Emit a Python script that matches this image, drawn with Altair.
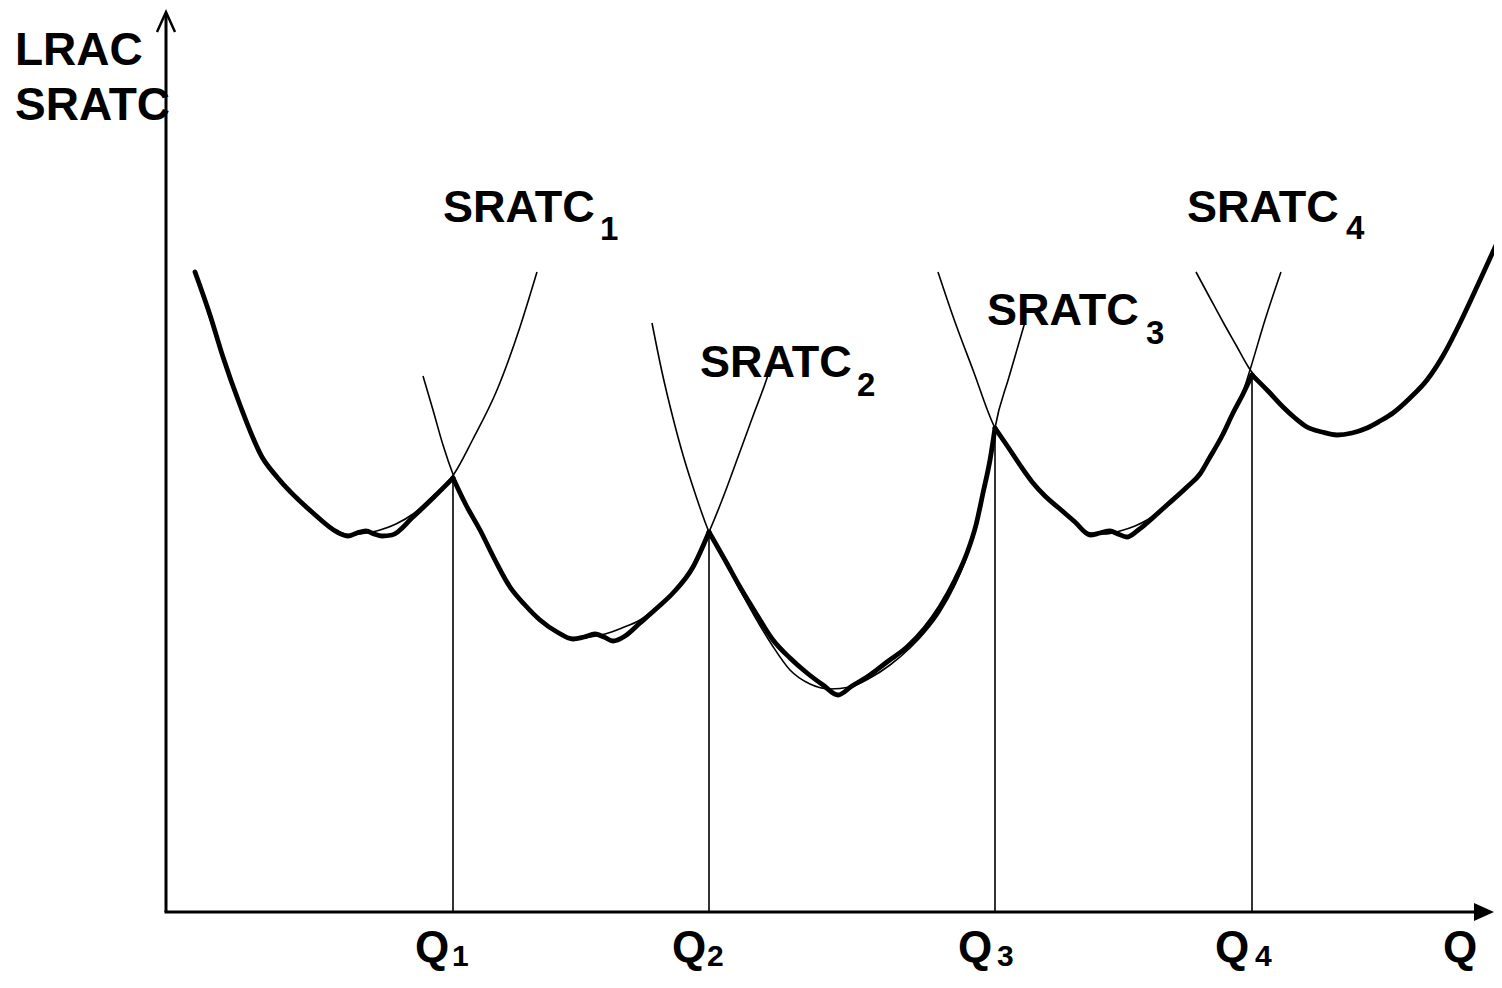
import altair as alt
import pandas as pd

# Data units: Q (quantity, horizontal) and C (cost, vertical)
Q_DOMAIN = [-15.8, 132.8]
C_DOMAIN = [-6.2, 90.4]

# LRAC envelope (thick), one segment per plant size
LRAC1_Q = [2.9, 4.4, 5.7, 7.4, 9.6, 11.1, 14.7, 17.1, 18.2, 19.1, 20.0, 20.8, 21.6, 22.6, 24.7, 26.7, 28.7]
LRAC1_C = [64.0, 59.7, 55.5, 50.7, 45.5, 43.5, 39.9, 38.0, 37.6, 37.9, 38.1, 37.8, 37.6, 37.7, 39.5, 41.4, 43.4]
LRAC2_Q = [28.7, 30.0, 31.4, 32.9, 34.4, 35.9, 37.4, 39.1, 40.7, 41.8, 42.9, 43.8, 44.7, 45.9, 47.4, 49.1, 50.7, 52.7, 54.3]
LRAC2_C = [43.4, 40.7, 38.2, 35.2, 32.5, 30.7, 29.2, 28.0, 27.3, 27.5, 27.8, 27.5, 27.1, 27.6, 28.9, 30.4, 31.9, 34.5, 38.0]
LRAC3_Q = [54.3, 55.9, 57.4, 59.1, 60.7, 62.4, 64.1, 65.7, 67.2, 68.6, 70.1, 72.1, 74.1, 75.9, 77.4, 78.9, 80.1, 81.0, 81.7, 82.4, 82.9]
LRAC3_C = [38.0, 35.2, 32.5, 29.7, 27.2, 25.4, 23.9, 22.7, 21.7, 22.6, 23.5, 25.0, 26.5, 28.4, 30.5, 33.2, 35.9, 38.7, 41.9, 45.2, 48.4]
LRAC4_Q = [82.9, 84.2, 85.4, 86.7, 87.9, 89.4, 90.9, 92.4, 93.4, 94.4, 95.2, 96.1, 97.1, 98.1, 100.1, 102.1, 103.4, 104.4, 105.6, 106.7, 107.7, 108.6]
LRAC4_C = [48.4, 46.5, 44.7, 42.9, 41.6, 40.3, 39.0, 37.7, 37.9, 38.1, 37.8, 37.5, 38.1, 38.9, 40.7, 42.5, 43.8, 45.5, 47.6, 49.9, 51.8, 53.7]
LRAC5_Q = [108.6, 110.2, 111.7, 112.9, 114.1, 115.6, 117.1, 118.6, 120.1, 121.4, 122.7, 124.4, 126.1, 127.8, 129.4, 131.5, 133.6]
LRAC5_C = [53.7, 52.1, 50.5, 49.4, 48.5, 48.0, 47.7, 47.9, 48.4, 49.1, 49.9, 51.4, 53.2, 55.8, 58.9, 63.4, 68.0]

# Short-run ATC curves (thin)
SRATC1_Q = [2.9, 5.7, 9.6, 11.1, 14.7, 17.1, 18.6, 20.0, 21.4, 23.0, 24.7, 26.7, 28.8, 30.7, 33.1, 35.4, 37.1]
SRATC1_C = [64.0, 55.5, 45.5, 43.5, 39.9, 38.1, 37.7, 37.9, 38.2, 38.8, 39.8, 41.6, 43.8, 47.3, 52.2, 58.5, 64.0]
SRATC2_Q = [25.7, 26.7, 27.7, 28.8, 30.0, 31.4, 32.9, 34.4, 35.9, 37.4, 39.1, 40.7, 42.4, 43.9, 45.6, 47.4, 49.1, 50.7, 52.7, 54.3, 55.8, 57.2, 58.7, 60.1, 60.6]
SRATC2_C = [53.6, 50.2, 46.7, 43.5, 40.7, 38.2, 35.2, 32.5, 30.7, 29.2, 28.0, 27.4, 27.5, 27.8, 28.4, 29.2, 30.5, 32.0, 34.6, 38.0, 41.7, 45.5, 49.6, 53.4, 55.0]
SRATC3_Q = [48.6, 49.6, 50.7, 51.7, 52.7, 54.3, 55.9, 57.4, 58.9, 60.6, 62.4, 64.4, 66.4, 68.4, 70.4, 72.4, 74.4, 75.9, 77.4, 78.9, 80.1, 81.0, 81.7, 82.4, 82.9, 84.3, 85.9]
SRATC3_C = [58.9, 54.0, 49.4, 45.7, 42.5, 38.0, 35.0, 32.2, 29.5, 26.7, 24.2, 22.8, 22.3, 22.5, 23.4, 24.7, 26.4, 28.0, 30.0, 32.7, 35.6, 38.5, 41.7, 45.2, 48.4, 53.5, 59.0]
SRATC4_Q = [77.2, 78.9, 80.7, 82.9, 84.2, 85.4, 86.7, 87.9, 89.4, 90.9, 92.4, 93.9, 95.4, 96.9, 98.1, 100.1, 102.1, 103.4, 104.4, 105.6, 106.7, 107.7, 108.4, 109.9, 111.5]
SRATC4_C = [64.0, 59.0, 54.2, 48.4, 46.5, 44.7, 42.9, 41.6, 40.3, 39.0, 37.9, 37.8, 38.1, 38.6, 39.2, 40.8, 42.5, 43.8, 45.5, 47.6, 49.9, 52.0, 54.2, 59.2, 64.0]
SRATC5_Q = [103.0, 104.4, 105.7, 107.0, 108.3, 110.2, 111.7, 114.1, 117.1, 120.1, 122.7, 126.1, 129.4, 133.6]
SRATC5_C = [64.0, 61.4, 59.0, 56.7, 54.4, 52.1, 50.5, 48.5, 47.7, 48.4, 49.9, 53.2, 58.9, 68.0]

# Plant-size switch points and the LRAC level at each
Q_SWITCH = [28.7, 54.3, 82.9, 108.6]
C_SWITCH = [43.4, 38.0, 48.4, 53.7]

# Text
AXIS_TITLE = ["LRAC", "SRATC"]
CURVE_NAMES = ["SRATC", "SRATC", "SRATC", "SRATC"]
CURVE_SUBS = ["1", "2", "3", "4"]
Q_NAMES = ["Q", "Q", "Q", "Q", "Q"]
Q_SUBS = ["1", "2", "3", "4"]

# ---- annotation placement (data units) ----
AXIS_TITLE_POS = [(-15.1, 84.7), (-15.1, 79.2)]
CURVE_NAME_POS = [(27.7, 69.0), (53.4, 53.5), (82.1, 58.7), (102.1, 69.0)]
CURVE_SUB_POS = [(43.4, 67.2), (69.1, 51.6), (98.0, 56.8), (118.0, 67.3)]
Q_NAME_POS = [(24.9, -5.0), (50.6, -5.0), (79.2, -5.0), (104.9, -5.0), (127.7, -5.0)]
Q_SUB_POS = [(28.6, -5.4), (54.1, -5.4), (83.1, -5.4), (108.9, -5.4)]

FONT = "Liberation Sans"


def curves(pairs):
    rows = []
    for name, qs, cs in pairs:
        for i, (q, c) in enumerate(zip(qs, cs)):
            rows.append({"series": name, "i": i, "q": q, "c": c})
    return pd.DataFrame(rows)


thick_df = curves([("L1", LRAC1_Q, LRAC1_C), ("L2", LRAC2_Q, LRAC2_C), ("L3", LRAC3_Q, LRAC3_C),
                   ("L4", LRAC4_Q, LRAC4_C), ("L5", LRAC5_Q, LRAC5_C)])
thin_df = curves([("S1", SRATC1_Q, SRATC1_C), ("S2", SRATC2_Q, SRATC2_C), ("S3", SRATC3_Q, SRATC3_C),
                  ("S4", SRATC4_Q, SRATC4_C), ("S5", SRATC5_Q, SRATC5_C)])

XS = alt.Scale(domain=Q_DOMAIN, nice=False, zero=False)
YS = alt.Scale(domain=C_DOMAIN, nice=False, zero=False)


def X(f):
    return alt.X(f, type="quantitative", scale=XS, axis=None)


def Y(f):
    return alt.Y(f, type="quantitative", scale=YS, axis=None)


thin = alt.Chart(thin_df).mark_line(color="black", strokeWidth=1.6, interpolate="monotone").encode(
    x=X("q"), y=Y("c"), detail="series:N", order="i:Q")
thick = alt.Chart(thick_df).mark_line(color="black", strokeWidth=4.8, interpolate="monotone",
                                      strokeJoin="round", strokeCap="round").encode(
    x=X("q"), y=Y("c"), detail="series:N", order="i:Q")

drop_df = pd.DataFrame({"q": Q_SWITCH, "c0": [0] * len(Q_SWITCH), "c1": C_SWITCH})
drops = alt.Chart(drop_df).mark_rule(color="black", strokeWidth=1.6).encode(
    x=X("q"), y=Y("c0"), y2="c1")

axes_df = pd.DataFrame({"q0": [0.0, -0.15], "q1": [0.0, 131.0], "c0": [0.0, 0.0], "c1": [89.9, 0.0]})
axes = alt.Chart(axes_df).mark_rule(color="black", strokeWidth=3).encode(
    x=X("q0"), x2="q1", y=Y("c0"), y2="c1")

xarrow = alt.Chart(pd.DataFrame({"q": [131.8], "c": [0.0]})).mark_point(
    shape="M -1 -0.9 L 1 0 L -1 0.9 Z", filled=True, color="black", opacity=1, size=400).encode(
    x=X("q"), y=Y("c"))
yarrow = alt.Chart(pd.DataFrame({"q": [0.0], "c": [89.0]})).mark_point(
    shape="M -0.9 1 L 0 -1 L 0.9 1", filled=False, color="black", opacity=1, size=400,
    strokeWidth=2.5).encode(x=X("q"), y=Y("c"))


def text_layer(texts, pos, size):
    df = pd.DataFrame({"t": texts, "q": [p[0] for p in pos], "c": [p[1] for p in pos]})
    return alt.Chart(df).mark_text(align="left", baseline="alphabetic", font=FONT,
                                   fontWeight="bold", fontSize=size, color="black").encode(
        x=X("q"), y=Y("c"), text="t:N")


labels = [
    text_layer(AXIS_TITLE, AXIS_TITLE_POS, 46),
    text_layer(CURVE_NAMES, CURVE_NAME_POS, 45),
    text_layer(CURVE_SUBS, CURVE_SUB_POS, 33),
    text_layer(Q_NAMES, Q_NAME_POS, 44),
    text_layer(Q_SUBS, Q_SUB_POS, 30),
]

chart = alt.layer(axes, drops, thin, thick, xarrow, yarrow, *labels).properties(
    width=1486, height=966, padding=0,
    autosize=alt.AutoSizeParams(type="none"),
).configure_view(stroke=None)

chart.save("out.html", embed_options={"renderer": "svg", "actions": False})
